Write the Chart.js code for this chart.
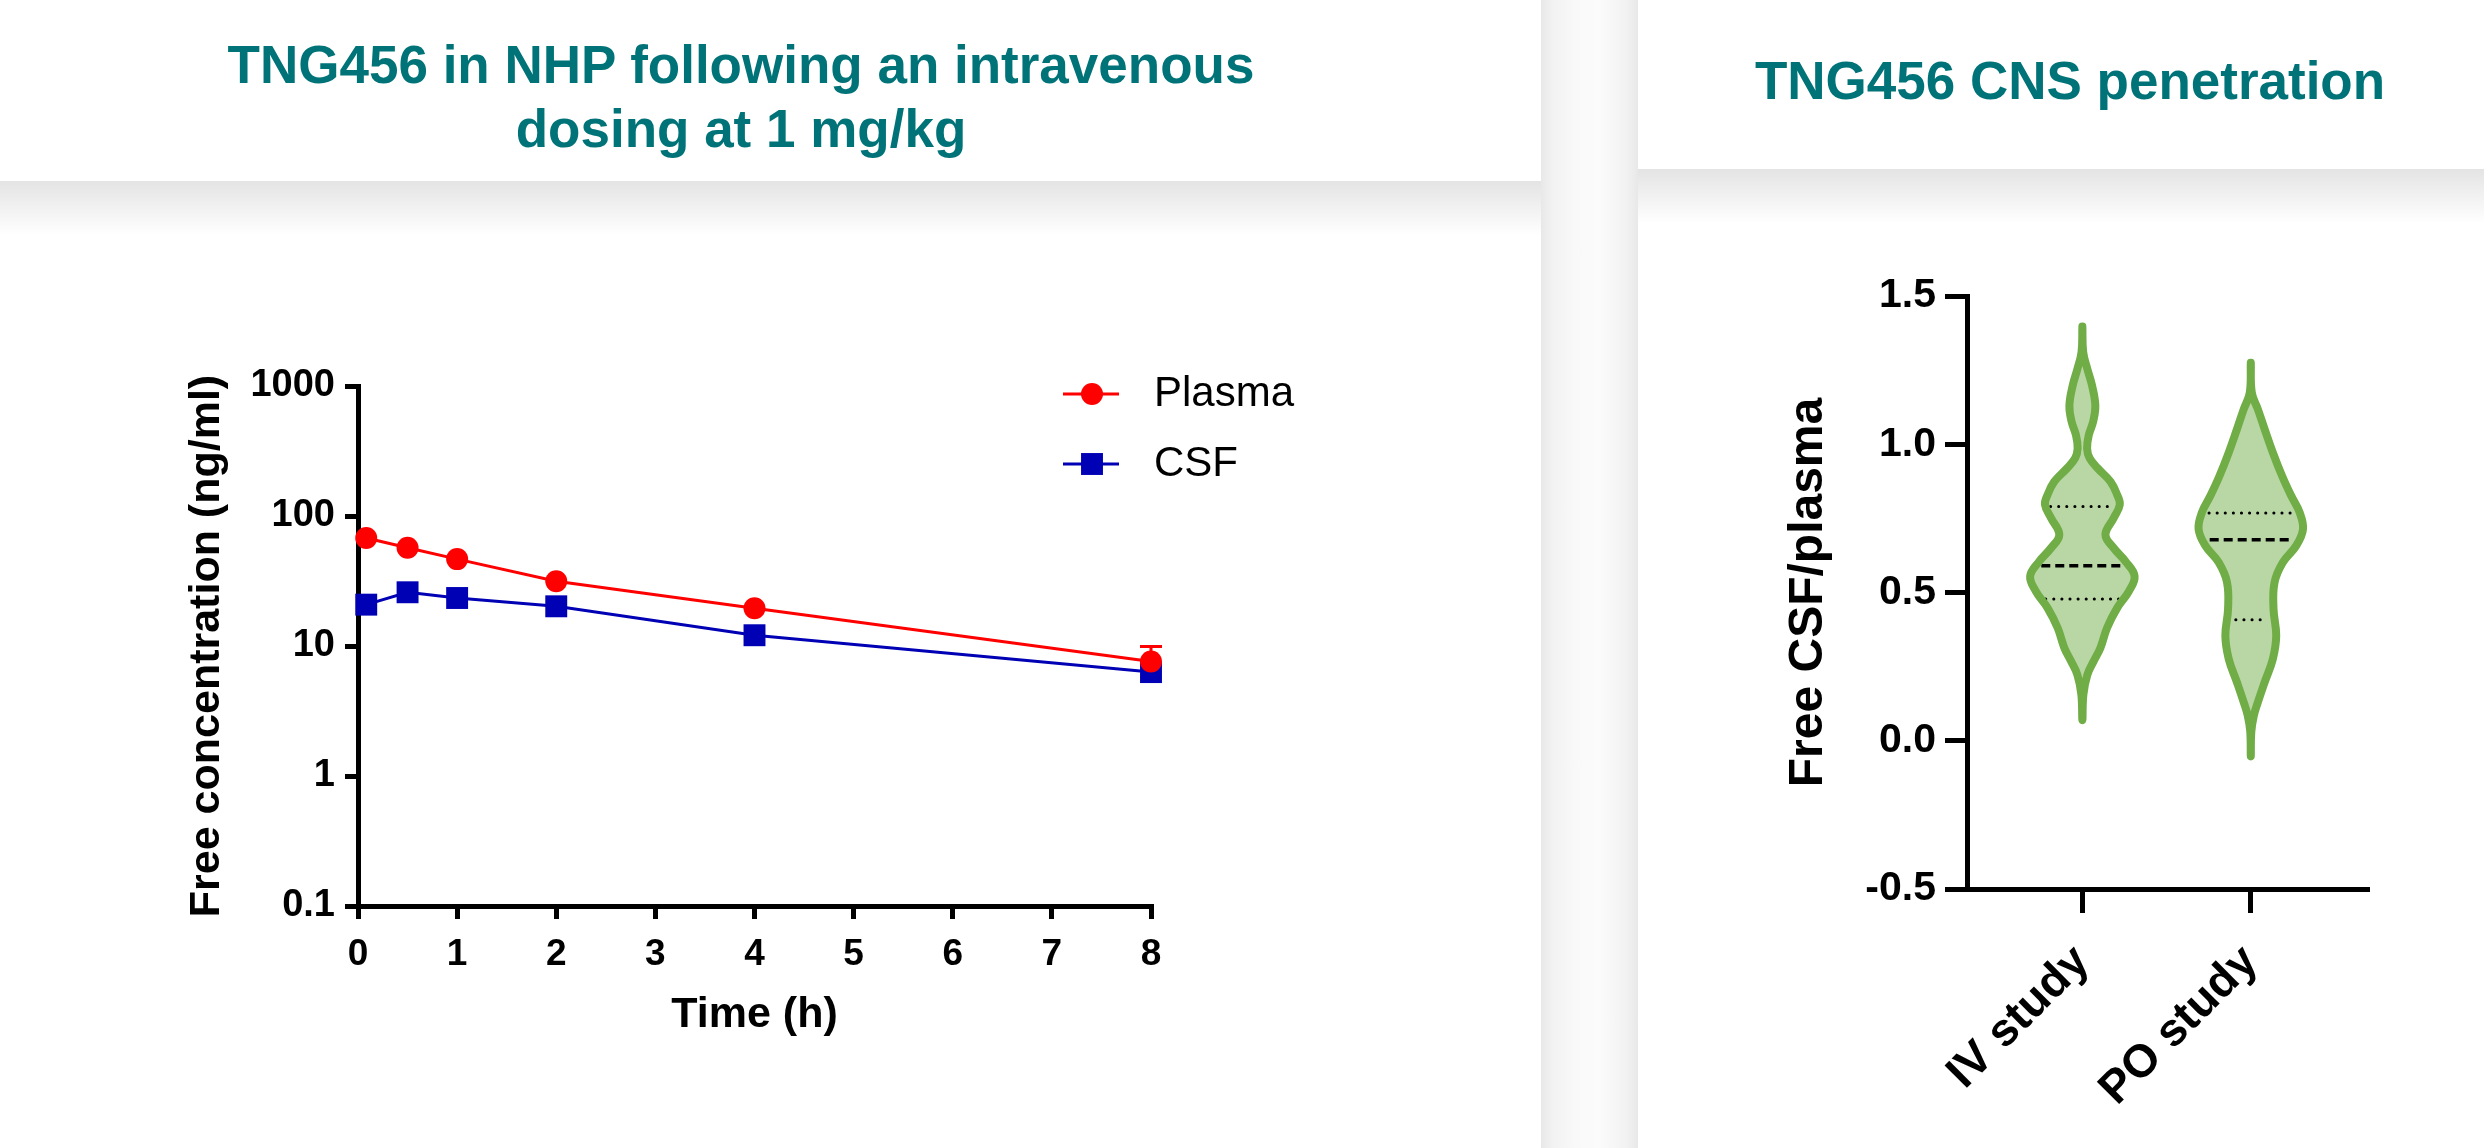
<!DOCTYPE html>
<html>
<head>
<meta charset="utf-8">
<script src="https://cdn.jsdelivr.net/npm/chart.js@4.4.1/dist/chart.umd.min.js"></script>
<style>
  html, body { margin: 0; padding: 0; background: #fff; }
  body { width: 2484px; height: 1148px; position: relative; overflow: hidden; font-family: "Liberation Sans", Arial, sans-serif; }
  .header { position: absolute; top: 0; background: #fff; z-index: 2; }
  .shade { position: absolute; height: 55px; background: linear-gradient(#e4e4e4, rgba(255,255,255,0)); z-index: 1; }
  .gutter { position: absolute; left: 1541px; top: 0; width: 97px; height: 1148px; z-index: 3;
            background: linear-gradient(to right, #e8e8e8 0%, #f2f2f2 12%, #f9f9f9 35%, #fbfbfb 60%, #f2f2f2 88%, #e8e8e8 100%); }
  .title { position: absolute; color: #007378; font-weight: bold; font-size: 53px; line-height: 64px; text-align: center; z-index: 4; }
  canvas { position: absolute; }
</style>
</head>
<body>
<div class="header" style="left:0; width:1541px; height:181px;"></div>
<div class="shade" style="left:0; top:181px; width:1541px;"></div>
<div class="header" style="left:1638px; width:846px; height:169px;"></div>
<div class="shade" style="left:1638px; top:169px; width:846px;"></div>
<div class="gutter"></div>

<div class="title" style="left:0; top:33px; width:1482px;">TNG456 in NHP following an intravenous<br>dosing at 1 mg/kg</div>
<div class="title" style="left:1640px; top:49px; width:860px;">TNG456 CNS penetration</div>

<canvas id="pkChart" width="1400" height="760" style="left:0; top:303px;"></canvas>
<canvas id="violinChart" width="844" height="905" style="left:1640px; top:243px;"></canvas>

<script>
// Données du graphique de gauche (concentration libre vs temps)
const timePoints = [0.083, 0.5, 1, 2, 4, 8];
const plasmaConc = [67.7, 57.0, 46.6, 31.5, 19.5, 7.6];
const plasmaErr  = [0, 0, 0, 0, 0, 2.3];
const csfConc    = [20.8, 25.9, 23.4, 20.2, 12.1, 6.3];
const concTicks  = [0.1, 1, 10, 100, 1000];
const timeTicks  = [0, 1, 2, 3, 4, 5, 6, 7, 8];

// Données du graphique de droite (violons CSF/plasma)
const studies    = ['IV study', 'PO study'];
const ratioTicks = [-0.5, 0, 0.5, 1.0, 1.5];
const ivLevels    = [1.397, 1.31, 1.253, 1.197, 1.13, 1.076, 1.031, 0.986, 0.953, 0.919, 0.874, 0.829, 0.796, 0.751, 0.695, 0.65, 0.605, 0.555, 0.504, 0.448, 0.381, 0.313, 0.268, 0.223, 0.156, 0.069];
const ivHalfWidth = [0, 0.005, 0.03, 0.058, 0.077, 0.064, 0.038, 0.028, 0.043, 0.091, 0.167, 0.207, 0.222, 0.186, 0.137, 0.186, 0.256, 0.31, 0.276, 0.207, 0.147, 0.107, 0.067, 0.03, 0.006, 0];
const poLevels    = [1.275, 1.174, 1.118, 1.051, 0.972, 0.893, 0.826, 0.77, 0.714, 0.658, 0.601, 0.534, 0.444, 0.354, 0.276, 0.197, 0.13, 0.085, 0.03, -0.053];
const poHalfWidth = [0, 0.006, 0.042, 0.082, 0.131, 0.186, 0.24, 0.29, 0.31, 0.27, 0.19, 0.141, 0.135, 0.151, 0.131, 0.082, 0.042, 0.018, 0.003, 0];
// quartis: Q1, médiane, Q3
const ivQuartiles = [0.478, 0.59, 0.79];
const ivQuartHalf = [0.218, 0.244, 0.189];
const poQuartiles = [0.408, 0.678, 0.768];
const poQuartHalf = [0.089, 0.244, 0.248];

const fontFam = '"Liberation Sans", Arial, sans-serif';
Chart.defaults.color = '#000';
Chart.defaults.font.family = fontFam;

const axisBorder = { display: true, width: 5, color: '#000' };

// ---------- graphique PK ----------
const pkExtras = {
  id: 'pkExtras',
  beforeDatasetsDraw(chart) {
    const { ctx, scales: { x, y } } = chart;
    ctx.save();
    ctx.strokeStyle = '#ff0000';
    ctx.lineWidth = 3;
    timePoints.forEach((t, i) => {
      if (!plasmaErr[i]) return;
      const px = x.getPixelForValue(t);
      const y0 = y.getPixelForValue(plasmaConc[i]);
      const y1 = y.getPixelForValue(plasmaConc[i] + plasmaErr[i]);
      ctx.beginPath();
      ctx.moveTo(px, y0); ctx.lineTo(px, y1);
      ctx.moveTo(px - 11, y1); ctx.lineTo(px + 11, y1);
      ctx.stroke();
    });
    ctx.restore();
  },
  afterDraw(chart) {
    // légende dessinée à la main (déborde à droite du cadre)
    const { ctx, chartArea } = chart;
    const x0 = chartArea.right - 88;
    ctx.save();
    chart.data.datasets.forEach((ds, i) => {
      const yy = chartArea.top + 8 + i * 70;
      ctx.strokeStyle = ds.borderColor;
      ctx.fillStyle = ds.backgroundColor;
      ctx.lineWidth = 3;
      ctx.beginPath();
      ctx.moveTo(x0, yy); ctx.lineTo(x0 + 56, yy);
      ctx.stroke();
      Chart.helpers.drawPoint(ctx, { pointStyle: ds.pointStyle, radius: ds.pointRadius, borderWidth: 0, rotation: 0 }, x0 + 29, yy);
      ctx.fillStyle = '#000';
      ctx.font = '42px ' + fontFam;
      ctx.textBaseline = 'middle';
      ctx.textAlign = 'left';
      ctx.fillText(ds.label, x0 + 91, yy);
    });
    ctx.restore();
  }
};

new Chart(document.getElementById('pkChart'), {
  type: 'scatter',
  data: {
    datasets: [{
      label: 'Plasma',
      data: timePoints.map((t, i) => ({ x: t, y: plasmaConc[i] })),
      showLine: true,
      borderColor: '#ff0000',
      backgroundColor: '#ff0000',
      borderWidth: 3,
      pointStyle: 'circle',
      pointRadius: 11,
      pointBorderWidth: 0,
      clip: false
    }, {
      label: 'CSF',
      data: timePoints.map((t, i) => ({ x: t, y: csfConc[i] })),
      showLine: true,
      borderColor: '#0000b4',
      backgroundColor: '#0000b4',
      borderWidth: 3,
      pointStyle: 'rect',
      pointRadius: 15.5,
      pointBorderWidth: 0,
      clip: false
    }]
  },
  options: {
    responsive: false,
    animation: false,
    events: [],
    layout: { padding: { left: 0, top: 83, right: 249, bottom: 0 } },
    plugins: { legend: { display: false }, tooltip: { enabled: false } },
    scales: {
      x: {
        type: 'linear', min: 0, max: 8,
        afterBuildTicks: s => { s.ticks = timeTicks.map(v => ({ value: v })); },
        afterFit: s => { s.height = 157; },
        border: axisBorder,
        grid: { drawOnChartArea: false, drawTicks: true, tickLength: 13, tickWidth: 5, tickColor: '#000', lineWidth: 5, color: '#000' },
        ticks: { font: { size: 37, weight: 'bold' }, padding: 14, maxRotation: 0, autoSkip: false },
        title: { display: true, text: 'Time (h)', font: { size: 43, weight: 'bold' }, padding: { top: 0, bottom: 22 } }
      },
      y: {
        type: 'logarithmic', min: 0.1, max: 1000,
        afterBuildTicks: s => { s.ticks = concTicks.map(v => ({ value: v })); },
        afterFit: s => { s.width = 358; },
        border: axisBorder,
        grid: { drawOnChartArea: false, drawTicks: true, tickLength: 13, tickWidth: 5, tickColor: '#000', lineWidth: 5, color: '#000' },
        ticks: { font: { size: 38, weight: 'bold' }, padding: 10, autoSkip: false, callback: v => String(v) },
        title: { display: true, text: 'Free concentration (ng/ml)', font: { size: 43, weight: 'bold' }, padding: { top: 181, bottom: 0 } }
      }
    }
  },
  plugins: [pkExtras]
});

// ---------- graphique violon ----------
function violinOutline(pos, levels, halfW) {
  const right = levels.map((v, i) => ({ x: pos + halfW[i], y: v }));
  const left = levels.map((v, i) => ({ x: pos - halfW[i], y: v })).reverse();
  return right.concat(left.slice(1));
}

function violinDataset(pos, levels, halfW) {
  return {
    data: violinOutline(pos, levels, halfW),
    showLine: true,
    fill: 'shape',
    backgroundColor: '#b9d7a5',
    borderColor: '#70ad47',
    borderWidth: 8,
    borderCapStyle: 'round',
    borderJoinStyle: 'round',
    tension: 0.4,
    pointRadius: 0,
    clip: false
  };
}

function quartileDatasets(pos, quarts, halfW) {
  return quarts.map((q, i) => ({
    data: [{ x: pos - halfW[i], y: q }, { x: pos + halfW[i], y: q }],
    showLine: true,
    fill: false,
    borderColor: '#000',
    borderWidth: i === 1 ? 3.5 : 3,
    borderDash: i === 1 ? [9, 5] : [0.1, 8],
    borderCapStyle: i === 1 ? 'butt' : 'round',
    pointRadius: 0,
    clip: false
  }));
}

new Chart(document.getElementById('violinChart'), {
  type: 'scatter',
  data: {
    datasets: [
      violinDataset(1, ivLevels, ivHalfWidth),
      violinDataset(2, poLevels, poHalfWidth),
      ...quartileDatasets(1, ivQuartiles, ivQuartHalf),
      ...quartileDatasets(2, poQuartiles, poQuartHalf)
    ]
  },
  options: {
    responsive: false,
    animation: false,
    events: [],
    layout: { padding: { left: 0, top: 53, right: 117, bottom: 0 } },
    plugins: { legend: { display: false }, tooltip: { enabled: false }, filler: { drawTime: 'beforeDatasetsDraw' } },
    scales: {
      x: {
        type: 'linear', min: 0.315, max: 2.69,
        afterBuildTicks: s => { s.ticks = studies.map((_, i) => ({ value: i + 1 })); },
        afterFit: s => { s.height = 259; },
        border: axisBorder,
        grid: { drawOnChartArea: false, drawTicks: true, tickLength: 24, tickWidth: 5, tickColor: '#000', lineWidth: 5, color: '#000' },
        ticks: { font: { size: 46, weight: 'bold' }, padding: 22, labelOffset: 0, minRotation: 45, maxRotation: 45, autoSkip: false,
                 callback: v => studies[v - 1] }
      },
      y: {
        min: -0.5, max: 1.5,
        afterBuildTicks: s => { s.ticks = ratioTicks.map(v => ({ value: v })); },
        afterFit: s => { s.width = 327; },
        border: axisBorder,
        grid: { drawOnChartArea: false, drawTicks: true, tickLength: 22, tickWidth: 5, tickColor: '#000', lineWidth: 5, color: '#000' },
        ticks: { font: { size: 41, weight: 'bold' }, padding: 9, autoSkip: false, callback: v => v.toFixed(1) },
        title: { display: true, text: 'Free CSF/plasma', font: { size: 48, weight: 'bold' }, padding: { top: 140, bottom: 0 } }
      }
    }
  }
});
</script>
</body>
</html>
